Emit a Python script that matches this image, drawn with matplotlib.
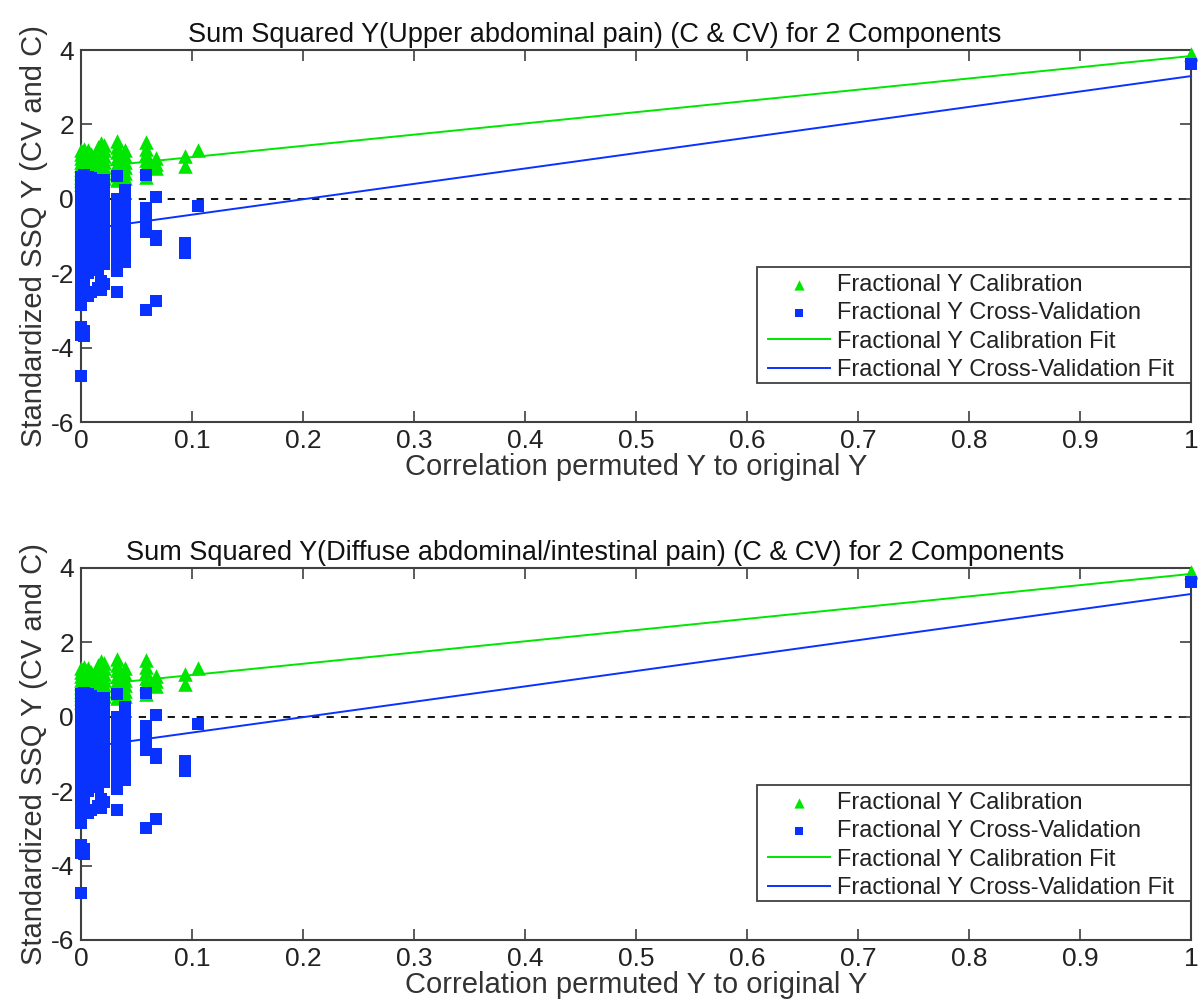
import matplotlib
matplotlib.use("Agg")
import matplotlib.pyplot as plt
from matplotlib.patches import Rectangle

plt.rcParams['font.family'] = ['Liberation Sans', 'DejaVu Sans']
plt.rcParams['axes.unicode_minus'] = False

# ---- data ----
corr_cols = [0.000, 0.003, 0.006, 0.009, 0.015, 0.018, 0.021, 0.032, 0.040,
             0.059, 0.068, 0.094, 0.105, 1.000]

cal_cols = [
    [1.3, 1.2, 1.1, 1.0, 0.9, 0.8, 0.7, 0.6, 0.5, 0.4],
    [1.35, 1.25, 1.15, 1.05, 0.95, 0.85, 0.75, 0.65, 0.55],
    [1.3, 1.2, 1.1, 1.0, 0.9, 0.8, 0.7, 0.6],
    [1.2, 1.1, 1.0, 0.9, 0.8, 0.7, 0.6],
    [1.4, 1.3, 1.2, 1.1, 1.0, 0.9, 0.8, 0.7, 0.6, 0.5],
    [1.5, 1.35, 1.2, 1.05, 0.9, 0.75, 0.6],
    [1.45, 1.3, 1.15, 1.0, 0.85, 0.7, 0.55],
    [1.55, 1.4, 1.25, 1.1, 0.95, 0.8, 0.65, 0.5],
    [1.3, 1.15, 1.0, 0.85, 0.7, 0.55],
    [1.52, 1.35, 1.2, 1.05, 0.9, 0.6],
    [1.1, 0.95, 0.82],
    [1.15, 0.88],
    [1.3],
    [3.9],
]

cv_cols = [
    [0.6, 0.5, 0.3, 0.1, -0.1, -0.3, -0.5, -0.7, -0.9, -1.1, -1.3, -1.5, -1.7,
     -1.9, -2.1, -2.3, -2.5, -2.7, -2.85, -3.45, -3.65, -4.75],
    [0.65, 0.45, 0.25, 0.05, -0.15, -0.35, -0.55, -0.75, -0.95, -1.15, -1.35,
     -1.55, -1.75, -1.95, -2.15, -2.4, -2.6, -3.55, -3.7],
    [0.6, 0.4, 0.2, 0.0, -0.2, -0.4, -0.6, -0.8, -1.0, -1.2, -1.4, -1.6, -1.8,
     -2.0, -2.6],
    [0.55, 0.35, 0.15, -0.05, -0.25, -0.45, -0.65, -0.85, -1.05, -1.25, -1.45,
     -1.65, -1.85, -2.5],
    [0.5, 0.3, 0.1, -0.1, -0.3, -0.5, -0.7, -0.9, -1.1, -1.3, -1.5, -1.7, -1.9,
     -2.4],
    [0.45, 0.25, 0.05, -0.15, -0.35, -0.55, -0.75, -0.95, -1.15, -1.35, -1.55,
     -1.75, -2.2, -2.45],
    [0.5, 0.2, 0.0, -0.2, -0.4, -0.6, -0.8, -1.0, -1.2, -1.4, -1.6, -1.75, -2.3],
    [0.62, 0.0, -0.2, -0.4, -0.6, -0.8, -1.0, -1.2, -1.4, -1.6, -1.8, -1.95, -2.5],
    [0.25, 0.05, -0.15, -0.35, -0.55, -0.75, -0.95, -1.15, -1.35, -1.55, -1.7],
    [0.64, -0.25, -0.45, -0.65, -0.8, -0.9, -3.0],
    [0.05, -1.0, -1.1, -2.75],
    [-1.2, -1.3, -1.45],
    [-0.19],
    [3.62],
]

fit_x = [0.0, 1.0]
fit_cal = [0.82, 3.84]
fit_cv = [-0.84, 3.30]

titles = [
    "Sum Squared Y(Upper abdominal pain) (C & CV) for 2 Components",
    "Sum Squared Y(Diffuse abdominal/intestinal pain) (C & CV) for 2 Components",
]
xlabel = "Correlation permuted Y to original Y"
ylabel = "Standardized SSQ Y (CV and C)"
xticks = [0, 0.1, 0.2, 0.3, 0.4, 0.5, 0.6, 0.7, 0.8, 0.9, 1]
xticklabels = ["0", "0.1", "0.2", "0.3", "0.4", "0.5", "0.6", "0.7", "0.8", "0.9", "1"]
yticks = [-6, -4, -2, 0, 2, 4]

GREEN = "#00e600"
BLUE = "#0a32ff"
AXC = "#404040"

cal_x = [x for x, ys in zip(corr_cols, cal_cols) for _ in ys]
cal_y = [y for ys in cal_cols for y in ys]
cv_x = [x for x, ys in zip(corr_cols, cv_cols) for _ in ys]
cv_y = [y for ys in cv_cols for y in ys]

fig = plt.figure(figsize=(11.98, 10.07), dpi=100)
rects = [[0.0676, 0.5809, 0.9266, 0.3694], [0.0676, 0.0666, 0.9266, 0.3694]]

for rect, title in zip(rects, titles):
    ax = fig.add_axes(rect)
    ax.axhline(0, color="black", linestyle=(0, (4, 4)), linewidth=1.3, zorder=1)
    ax.scatter(cal_x, cal_y, marker="^", s=110, color=GREEN, linewidths=0,
               zorder=3, clip_on=False, label="Fractional Y Calibration")
    ax.scatter(cv_x, cv_y, marker="s", s=80, color=BLUE, linewidths=0,
               zorder=4, clip_on=False, label="Fractional Y Cross-Validation")
    ax.plot(fit_x, fit_cal, color=GREEN, linewidth=1.4, zorder=5,
            label="Fractional Y Calibration Fit")
    ax.plot(fit_x, fit_cv, color=BLUE, linewidth=1.4, zorder=5,
            label="Fractional Y Cross-Validation Fit")
    ax.set_xlim(0, 1)
    ax.set_ylim(-6, 4)
    ax.set_xticks(xticks)
    ax.set_xticklabels(xticklabels)
    ax.set_yticks(yticks)
    ax.tick_params(direction="in", length=8, width=1.2, colors=AXC,
                   labelcolor="#222222", labelsize=19, top=True, right=True,
                   pad=5)
    for sp in ax.spines.values():
        sp.set_color(AXC)
        sp.set_linewidth(1.5)
        sp.set_zorder(2)
    ax.set_title(title, fontsize=19.5, color="#111111", pad=6, x=0.463)
    ax.set_xlabel(xlabel, fontsize=21, color="#333333", labelpad=0)
    ax.set_ylabel(ylabel, fontsize=21, color="#333333", labelpad=2)

    # legend box
    box = Rectangle((0.609, 0.104), 0.391, 0.312, transform=ax.transAxes,
                    facecolor="white", edgecolor=AXC, linewidth=1.3,
                    zorder=6, clip_on=False)
    ax.add_patch(box)
    leg = ax.legend(loc="upper left", bbox_to_anchor=(0.619, 0.398),
                    borderaxespad=0, fontsize=17, frameon=False,
                    handlelength=2.6, handletextpad=0.3,
                    labelspacing=0.27, borderpad=0, scatterpoints=1,
                    markerscale=0.7)
    leg.set_zorder(7)
    for t in leg.get_texts():
        t.set_color("#222222")

fig.savefig("out.png", dpi=100)
